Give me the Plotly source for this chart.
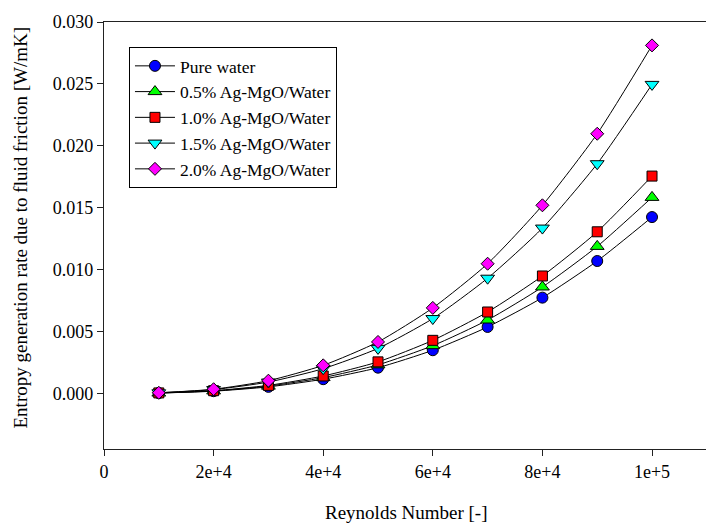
import plotly.graph_objects as go

reynolds = [10000, 20000, 30000, 40000, 50000, 60000, 70000, 80000, 90000, 100000]

pure_water = [0.00002, 0.00017, 0.00052, 0.00114, 0.00207, 0.00348, 0.00536, 0.00773, 0.01069, 0.01424]
ag_mgo_05 = [0.00002, 0.00019, 0.00058, 0.00127, 0.00230, 0.00385, 0.00592, 0.00859, 0.01187, 0.01583]
ag_mgo_10 = [0.00003, 0.00021, 0.00064, 0.00140, 0.00254, 0.00428, 0.00657, 0.00948, 0.01305, 0.01755]
ag_mgo_15 = [0.00004, 0.00030, 0.00091, 0.00199, 0.00363, 0.00604, 0.00930, 0.01335, 0.01855, 0.02496]
ag_mgo_20 = [0.00004, 0.00033, 0.00102, 0.00226, 0.00415, 0.00690, 0.01047, 0.01519, 0.02097, 0.02811]

series_names = ["Pure water", "0.5% Ag-MgO/Water", "1.0% Ag-MgO/Water",
                "1.5% Ag-MgO/Water", "2.0% Ag-MgO/Water"]
series_values = [pure_water, ag_mgo_05, ag_mgo_10, ag_mgo_15, ag_mgo_20]
marker_symbols = ["circle", "triangle-up", "square", "triangle-down", "diamond"]
marker_colors = ["#0000ff", "#00ff00", "#ff0000", "#00ffff", "#ff00ff"]
marker_sizes = [11, 12, 10, 12, 10]

x_tick_vals = [0, 20000, 40000, 60000, 80000, 100000]
x_tick_text = ["0", "2e+4", "4e+4", "6e+4", "8e+4", "1e+5"]
y_tick_vals = [0.000, 0.005, 0.010, 0.015, 0.020, 0.025, 0.030]

FONT = "Liberation Serif, Times New Roman, Times, serif"

fig = go.Figure()
for name, vals, sym, col, sz in zip(series_names, series_values, marker_symbols,
                                     marker_colors, marker_sizes):
    fig.add_trace(go.Scatter(
        x=reynolds, y=vals, name=name, mode="lines+markers",
        line=dict(color="black", width=1, shape="spline", smoothing=0.6),
        marker=dict(symbol=sym, color=col, size=sz,
                    line=dict(color="black", width=1)),
    ))

fig.update_layout(
    width=706, height=525,
    margin=dict(l=104, r=0, t=22, b=76),
    paper_bgcolor="white", plot_bgcolor="white",
    font=dict(family=FONT, size=18, color="black"),
    showlegend=True,
    legend=dict(x=0.0415, y=0.9415, xanchor="left", yanchor="top",
                bgcolor="white", bordercolor="black", borderwidth=1,
                font=dict(family=FONT, size=17.5, color="black"),
                tracegroupgap=0, itemwidth=40),
    xaxis=dict(range=[0, 109850], tickvals=x_tick_vals, ticktext=x_tick_text,
               showgrid=False, zeroline=False, showline=True, linecolor="#222",
               linewidth=1.3, mirror=True, ticks="outside", ticklen=6,
               tickcolor="#222", tickwidth=1.3,
               tickfont=dict(family=FONT, size=18, color="black")),
    yaxis=dict(range=[-0.0045, 0.030], tickvals=y_tick_vals, tickformat=".3f",
               showgrid=False, zeroline=False, showline=True, linecolor="#222",
               linewidth=1.3, mirror=False, ticks="outside", ticklen=6,
               tickcolor="#222", tickwidth=1.3,
               tickfont=dict(family=FONT, size=18, color="black")),
    annotations=[
        dict(text="Reynolds Number [-]", xref="paper", yref="paper",
             x=(406 - 104) / 602, y=-(512 - 449) / 427, xanchor="center",
             yanchor="middle", showarrow=False,
             font=dict(family=FONT, size=19, color="black")),
        dict(text="Entropy generation rate due to fluid friction [W/mK]",
             xref="paper", yref="paper", x=(20 - 104) / 602,
             y=(449 - 227.5) / 427, xanchor="center", yanchor="middle",
             textangle=-90, showarrow=False,
             font=dict(family=FONT, size=19, color="black")),
    ],
)

fig.write_html("out.html")
